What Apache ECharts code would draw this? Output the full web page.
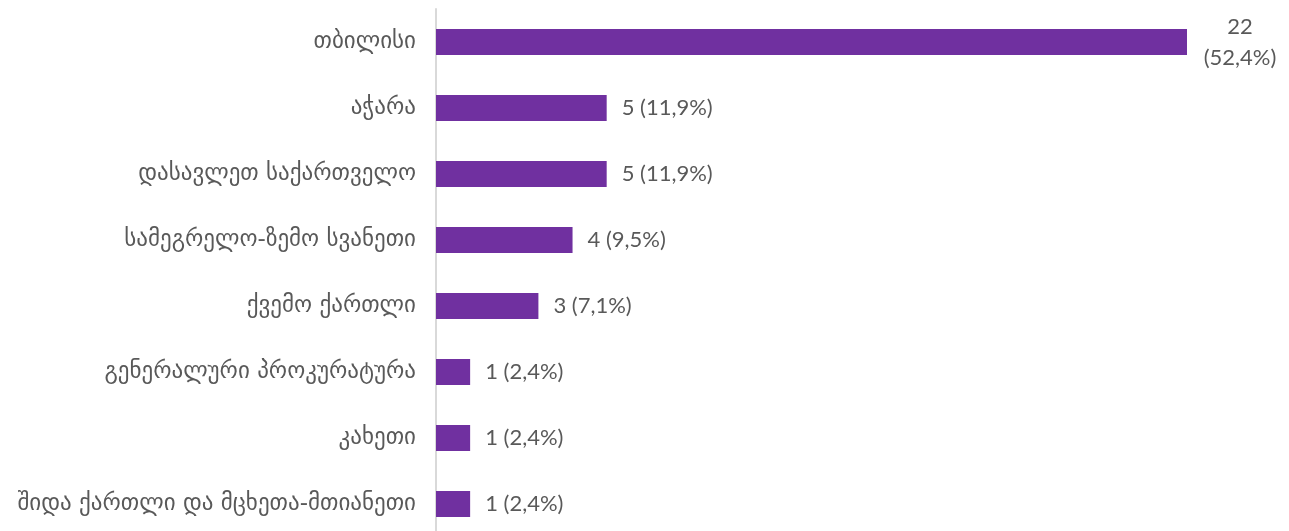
<!DOCTYPE html>
<html>
<head>
<meta charset="utf-8">
<script src="https://cdn.jsdelivr.net/npm/echarts@6/dist/echarts.min.js"></script>
<style>
  html, body { margin: 0; padding: 0; background: #fff; }
  #wrap { width: 1289px; height: 531px; overflow: hidden; }
  /* plot runs a few px past the bottom edge, as in the original */
  #main { width: 1289px; height: 537px; }
</style>
</head>
<body>
<div id="wrap"><div id="main"></div></div>
<script>
// regions, top to bottom
var regions = [
    'თბილისი',
    'აჭარა',
    'დასავლეთ საქართველო',
    'სამეგრელო-ზემო სვანეთი',
    'ქვემო ქართლი',
    'გენერალური პროკურატურა',
    'კახეთი',
    'შიდა ქართლი და მცხეთა-მთიანეთი'
];
var counts = [22, 5, 5, 4, 3, 1, 1, 1];
var shares = ['52,4%', '11,9%', '11,9%', '9,5%', '7,1%', '2,4%', '2,4%', '2,4%'];

var barColor = '#7030A0';
var textColor = '#595959';

var seriesData = counts.map(function (v, i) {
    var item = { value: v };
    if (i === 0) {
        // long bar - label wraps onto two lines
        item.label = {
            formatter: v + '\n(' + shares[i] + ')',
            align: 'center',
            distance: 53,
            lineHeight: 31
        };
    }
    return item;
});

var chart = echarts.init(document.getElementById('main'));
chart.setOption({
    animation: false,
    grid: {
        left: 436,
        width: 751,
        top: 9,
        bottom: 0
    },
    xAxis: {
        type: 'value',
        min: 0,
        max: 22,
        show: false
    },
    yAxis: {
        type: 'category',
        inverse: true,
        data: regions,
        axisTick: { show: false },
        axisLine: { show: true, lineStyle: { color: '#d9d9d9', width: 2 } },
        axisLabel: {
            margin: 20,
            color: textColor,
            fontFamily: 'DejaVu Sans',
            fontSize: 23
        }
    },
    series: [{
        type: 'bar',
        barWidth: 26,
        itemStyle: { color: barColor },
        label: {
            show: true,
            position: 'right',
            distance: 15,
            color: textColor,
            fontFamily: 'Lato',
            fontSize: 22,
            formatter: function (p) {
                return counts[p.dataIndex] + ' (' + shares[p.dataIndex] + ')';
            }
        },
        data: seriesData
    }]
});
</script>
</body>
</html>
